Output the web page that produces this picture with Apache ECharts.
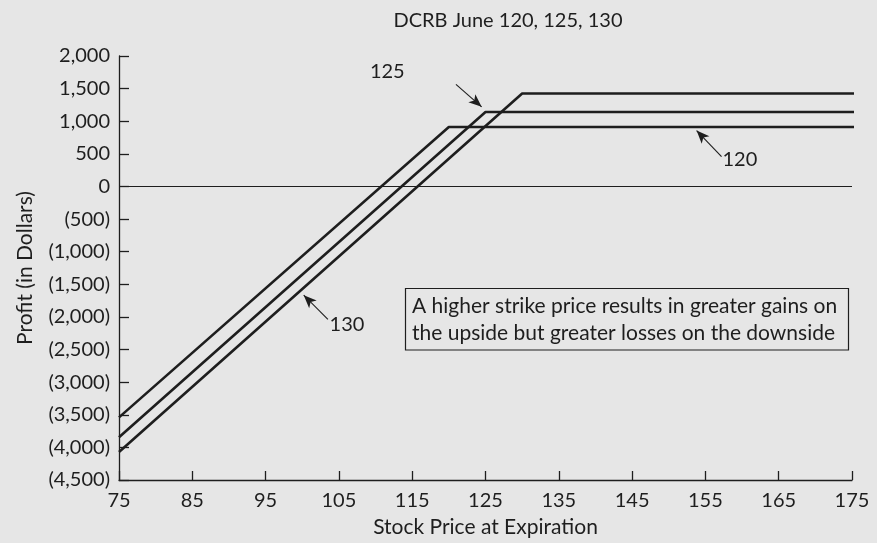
<!DOCTYPE html>
<html><head><meta charset="utf-8">
<script src="https://cdn.jsdelivr.net/npm/echarts@6/dist/echarts.min.js"></script>
<style>html,body{margin:0;padding:0;background:#e6e6e6;}#c{width:877px;height:543px;}</style>
</head><body><div id="c"></div>
<script>
// Data
const title = 'DCRB June 120, 125, 130';
const xTicks = [75, 85, 95, 105, 115, 125, 135, 145, 155, 165, 175];
const yTicks = [-4500, -4000, -3500, -3000, -2500, -2000, -1500, -1000, -500, 0, 500, 1000, 1500, 2000];
const price120 = [75, 120, 176.2];
const profit120 = [-3540, 912, 912];
const price125 = [75, 125, 176.2];
const profit125 = [-3845, 1141, 1141];
const price130 = [75, 130, 176.2];
const profit130 = [-4070, 1424, 1424];
const labels = ['120', '125', '130'];
const labelPos = [[159.7, 415], [111.6, 1765], [106.1, -2112]];
const arrowFrom = [[157.2, 456], [120.97, 1565], [103.5, -2036]];
const arrowTo = [[153.8, 857], [124.47, 1221], [100.2, -1667]];
const note = ['A higher strike price results in greater gains on', 'the upside but greater losses on the downside'];

const FONT = 'Lato';
const ink = '#1e1e1e';
function fmt(v) {
  const s = Math.abs(v).toLocaleString('en-US');
  return v < 0 ? '(' + s + ')' : s;
}
function pairs(xs, ys) { return xs.map((x, i) => [x, ys[i]]); }
const lineStyle = { color: ink, width: 2.6 };
const chart = echarts.init(document.getElementById('c'));
chart.setOption({
  backgroundColor: '#e6e6e6',
  animation: false,
  title: { text: title, left: 503, top: 6, textAlign: 'center',
    textStyle: { fontFamily: FONT, fontSize: 20, fontWeight: 'normal', color: ink } },
  grid: { left: 119, right: 25, top: 56, bottom: 59 },
  xAxis: { type: 'value', min: xTicks[0], max: xTicks[xTicks.length - 1], interval: 10,
    name: 'Stock Price at Expiration', nameLocation: 'middle', nameGap: 37,
    nameTextStyle: { fontFamily: FONT, fontSize: 21, color: ink },
    axisLine: { onZero: false, lineStyle: { color: ink, width: 1.3 } },
    axisTick: { inside: true, length: 9, lineStyle: { color: ink, width: 1.3 } },
    axisLabel: { fontFamily: FONT, fontSize: 20, color: ink, margin: 11 },
    splitLine: { show: false } },
  yAxis: { type: 'value', min: yTicks[0], max: yTicks[yTicks.length - 1], interval: 500,
    name: 'Profit (in Dollars)', nameLocation: 'middle', nameGap: 83,
    nameTextStyle: { fontFamily: FONT, fontSize: 21, color: ink },
    axisLine: { show: true, onZero: false, lineStyle: { color: ink, width: 1.3 } },
    axisTick: { show: true, inside: true, length: 10, lineStyle: { color: ink, width: 1.3 } },
    axisLabel: { fontFamily: FONT, fontSize: 20, color: ink, margin: 9, formatter: fmt },
    splitLine: { show: false } },
  series: [
    { type: 'line', data: pairs(price120, profit120), symbol: 'none', clip: false, lineStyle,
      markLine: { silent: true, symbol: ['none', 'none'], label: { show: false },
        lineStyle: { color: ink, width: 1.2, type: 'solid' }, data: [{ yAxis: 0 }] } },
    { type: 'line', data: pairs(price125, profit125), symbol: 'none', clip: false, lineStyle },
    { type: 'line', data: pairs(price130, profit130), symbol: 'none', clip: false, lineStyle },
    { type: 'scatter', data: [], silent: true,
      markLine: { silent: true, symbol: ['none', 'arrow'], symbolSize: [8, 13], label: { show: false },
        lineStyle: { color: ink, width: 1.1, type: 'solid' },
        data: arrowFrom.map((f, i) => [{ coord: f }, { coord: arrowTo[i] }]) },
      markPoint: { silent: true, symbol: 'circle', symbolSize: 0,
        label: { show: true, position: 'inside', fontFamily: FONT, fontSize: 20, color: ink,
          formatter: p => p.name },
        data: labels.map((t, i) => ({ name: t, coord: labelPos[i] })) } }
  ],
  graphic: [
    { type: 'rect', shape: { x: 405.5, y: 288.5, width: 443, height: 61.5 },
      style: { fill: 'none', stroke: ink, lineWidth: 1.2 } },
    { type: 'text', x: 412, y: 306.7, style: { text: note[0], fontFamily: FONT, fontSize: 21, fill: ink, verticalAlign: 'middle' } },
    { type: 'text', x: 412, y: 333.3, style: { text: note[1], fontFamily: FONT, fontSize: 21, fill: ink, verticalAlign: 'middle' } }
  ]
});
</script></body></html>
